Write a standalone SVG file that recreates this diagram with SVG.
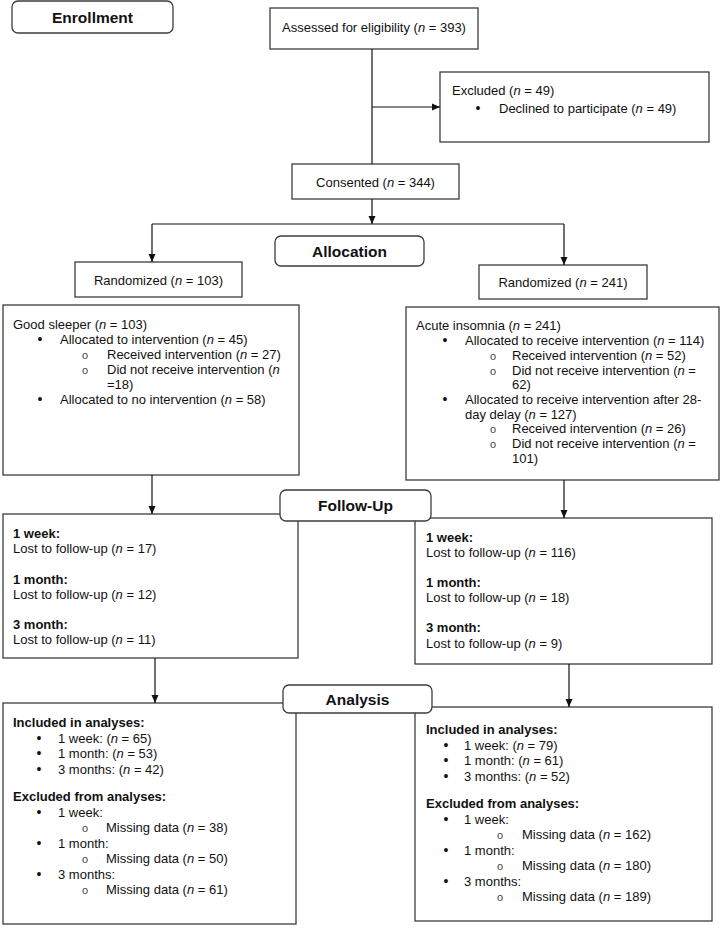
<svg xmlns="http://www.w3.org/2000/svg" width="721" height="930" viewBox="0 0 721 930">
<style>
.box{fill:#fff;stroke:#3c3c3c;stroke-width:1.3}
.lbl{fill:#fff;stroke:#3c3c3c;stroke-width:1.3}
text{font-family:"Liberation Sans",Arial,sans-serif;font-size:13px;fill:#111}
.b{font-weight:bold}
.h{font-size:15.5px;font-weight:bold;text-anchor:middle}
.c{text-anchor:middle}
.bu{text-anchor:middle;font-size:14px}
.sb{text-anchor:middle;font-family:"Liberation Mono","Courier New",monospace;font-size:11px;fill:#444}
.i{font-style:italic}
.conn{stroke:#111;stroke-width:1.2;fill:none}
</style>
<defs>
<marker id="arr" markerUnits="userSpaceOnUse" markerWidth="8" markerHeight="8" refX="8" refY="4" orient="auto">
<path d="M0,0.5 L8,4 L0,7.5 z" fill="#111"/>
</marker>
</defs>
<rect width="721" height="930" fill="#fff"/>

<g id="assessed">
<rect class="box" x="270" y="8" width="208" height="41"/>
<text class="c" x="374" y="32">Assessed for eligibility (<tspan class="i">n</tspan> = 393)</text>
</g>
<g id="excluded">
<rect class="box" x="440" y="72" width="269" height="70"/>
<text x="452" y="95">Excluded (<tspan class="i">n</tspan> = 49)</text>
<text class="bu" x="478" y="113">•</text>
<text x="499" y="113">Declined to participate (<tspan class="i">n</tspan> = 49)</text>
</g>
<g id="consented">
<rect class="box" x="292" y="164" width="167" height="35"/>
<text class="c" x="375.5" y="186.5">Consented (<tspan class="i">n</tspan> = 344)</text>
</g>
<g id="rand103">
<rect class="box" x="75" y="262" width="167" height="35"/>
<text class="c" x="158.5" y="284.5">Randomized (<tspan class="i">n</tspan> = 103)</text>
</g>
<g id="rand241">
<rect class="box" x="479" y="265" width="168" height="34"/>
<text class="c" x="563" y="287">Randomized (<tspan class="i">n</tspan> = 241)</text>
</g>
<g id="goodsleeper">
<rect class="box" x="3" y="305" width="296" height="170"/>
<text x="13" y="329">Good sleeper (<tspan class="i">n</tspan> = 103)</text>
<text class="bu" x="40" y="344">•</text>
<text x="60" y="344">Allocated to intervention (<tspan class="i">n</tspan> = 45)</text>
<text class="sb" x="85" y="359">o</text>
<text x="107" y="359">Received intervention (<tspan class="i">n</tspan> = 27)</text>
<text class="sb" x="85" y="374">o</text>
<text x="107" y="374">Did not receive intervention (<tspan class="i">n</tspan></text>
<text x="107" y="389">=18)</text>
<text class="bu" x="40" y="404">•</text>
<text x="60" y="404">Allocated to no intervention (<tspan class="i">n</tspan> = 58)</text>
</g>
<g id="acute">
<rect class="box" x="406" y="307" width="313" height="173"/>
<text x="416" y="330">Acute insomnia (<tspan class="i">n</tspan> = 241)</text>
<text class="bu" x="445" y="345">•</text>
<text x="465" y="345">Allocated to receive intervention (<tspan class="i">n</tspan> = 114)</text>
<text class="sb" x="493" y="360">o</text>
<text x="512" y="360">Received intervention (<tspan class="i">n</tspan> = 52)</text>
<text class="sb" x="493" y="374.5">o</text>
<text x="512" y="374.5">Did not receive intervention (<tspan class="i">n</tspan> =</text>
<text x="512" y="389">62)</text>
<text class="bu" x="445" y="404">•</text>
<text x="465" y="404">Allocated to receive intervention after 28-</text>
<text x="465" y="418.5">day delay (<tspan class="i">n</tspan> = 127)</text>
<text class="sb" x="493" y="433">o</text>
<text x="512" y="433">Received intervention (<tspan class="i">n</tspan> = 26)</text>
<text class="sb" x="493" y="448">o</text>
<text x="512" y="448">Did not receive intervention (<tspan class="i">n</tspan> =</text>
<text x="512" y="462.5">101)</text>
</g>
<g id="fu-left">
<rect class="box" x="3" y="514" width="295" height="144"/>
<text class="b" x="13" y="538">1 week:</text>
<text x="13" y="553">Lost to follow-up (<tspan class="i">n</tspan> = 17)</text>
<text class="b" x="13" y="584">1 month:</text>
<text x="13" y="599">Lost to follow-up (<tspan class="i">n</tspan> = 12)</text>
<text class="b" x="13" y="629">3 month:</text>
<text x="13" y="644">Lost to follow-up (<tspan class="i">n</tspan> = 11)</text>
</g>
<g id="fu-right">
<rect class="box" x="415" y="518" width="297" height="146"/>
<text class="b" x="426" y="542">1 week:</text>
<text x="426" y="557">Lost to follow-up (<tspan class="i">n</tspan> = 116)</text>
<text class="b" x="426" y="587">1 month:</text>
<text x="426" y="602">Lost to follow-up (<tspan class="i">n</tspan> = 18)</text>
<text class="b" x="426" y="632">3 month:</text>
<text x="426" y="648">Lost to follow-up (<tspan class="i">n</tspan> = 9)</text>
</g>
<g id="an-left">
<rect class="box" x="3" y="703" width="293" height="221"/>
<text class="b" x="13" y="727">Included in analyses:</text>
<text class="bu" x="39" y="742.5">•</text>
<text x="58" y="742.5">1 week: (<tspan class="i">n</tspan> = 65)</text>
<text class="bu" x="39" y="758">•</text>
<text x="58" y="758">1 month: (<tspan class="i">n</tspan> = 53)</text>
<text class="bu" x="39" y="773.5">•</text>
<text x="58" y="773.5">3 months: (<tspan class="i">n</tspan> = 42)</text>
<text class="b" x="13" y="801">Excluded from analyses:</text>
<text class="bu" x="39" y="816.5">•</text>
<text x="58" y="816.5">1 week:</text>
<text class="sb" x="85" y="832">o</text>
<text x="106" y="832">Missing data (<tspan class="i">n</tspan> = 38)</text>
<text class="bu" x="39" y="847.5">•</text>
<text x="58" y="847.5">1 month:</text>
<text class="sb" x="85" y="863">o</text>
<text x="106" y="863">Missing data (<tspan class="i">n</tspan> = 50)</text>
<text class="bu" x="39" y="878.5">•</text>
<text x="58" y="878.5">3 months:</text>
<text class="sb" x="85" y="894">o</text>
<text x="106" y="894">Missing data (<tspan class="i">n</tspan> = 61)</text>
</g>
<g id="an-right">
<rect class="box" x="415" y="707" width="297" height="214"/>
<text class="b" x="426" y="734">Included in analyses:</text>
<text class="bu" x="446" y="749.5">•</text>
<text x="464" y="749.5">1 week: (<tspan class="i">n</tspan> = 79)</text>
<text class="bu" x="446" y="765">•</text>
<text x="464" y="765">1 month: (<tspan class="i">n</tspan> = 61)</text>
<text class="bu" x="446" y="780.5">•</text>
<text x="464" y="780.5">3 months: (<tspan class="i">n</tspan> = 52)</text>
<text class="b" x="426" y="808">Excluded from analyses:</text>
<text class="bu" x="446" y="823.5">•</text>
<text x="464" y="823.5">1 week:</text>
<text class="sb" x="500" y="839">o</text>
<text x="522" y="839">Missing data (<tspan class="i">n</tspan> = 162)</text>
<text class="bu" x="446" y="854.5">•</text>
<text x="464" y="854.5">1 month:</text>
<text class="sb" x="500" y="870">o</text>
<text x="522" y="870">Missing data (<tspan class="i">n</tspan> = 180)</text>
<text class="bu" x="446" y="885.5">•</text>
<text x="464" y="885.5">3 months:</text>
<text class="sb" x="500" y="901">o</text>
<text x="522" y="901">Missing data (<tspan class="i">n</tspan> = 189)</text>
</g>

<g id="connectors">
<line class="conn" x1="372" y1="49" x2="372" y2="164"/>
<line class="conn" x1="372" y1="107" x2="440" y2="107" marker-end="url(#arr)"/>
<line class="conn" x1="372" y1="199" x2="372" y2="224" marker-end="url(#arr)"/>
<line class="conn" x1="152" y1="224" x2="564" y2="224"/>
<line class="conn" x1="152" y1="224" x2="152" y2="262" marker-end="url(#arr)"/>
<line class="conn" x1="564" y1="224" x2="564" y2="265" marker-end="url(#arr)"/>
<line class="conn" x1="152" y1="475" x2="152" y2="514" marker-end="url(#arr)"/>
<line class="conn" x1="564" y1="480" x2="564" y2="518" marker-end="url(#arr)"/>
<line class="conn" x1="155" y1="658" x2="155" y2="703" marker-end="url(#arr)"/>
<line class="conn" x1="569" y1="664" x2="569" y2="707" marker-end="url(#arr)"/>
</g>

<g id="enrollment">
<rect class="lbl" x="12" y="1" width="161" height="32" rx="6"/>
<text class="h" x="92.5" y="22.5">Enrollment</text>
</g>
<g id="allocation">
<rect class="lbl" x="275" y="236" width="149" height="30" rx="6"/>
<text class="h" x="349.5" y="256.5">Allocation</text>
</g>
<g id="followup">
<rect class="lbl" x="280" y="490" width="151" height="31" rx="6"/>
<text class="h" x="355.5" y="511">Follow-Up</text>
</g>
<g id="analysis">
<rect class="lbl" x="283" y="685" width="149" height="28" rx="6"/>
<text class="h" x="357.5" y="704.5">Analysis</text>
</g>
</svg>
